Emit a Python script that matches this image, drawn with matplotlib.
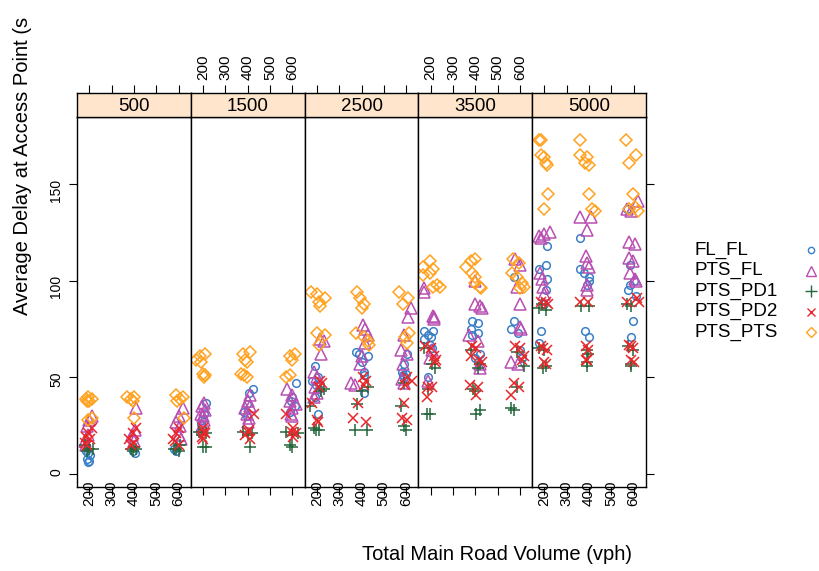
import matplotlib
matplotlib.use("Agg")
import matplotlib.pyplot as plt

plt.rcParams["font.family"] = ["Liberation Sans", "DejaVu Sans"]

# main road volume panels, access volume ticks
panels = [500, 1500, 2500, 3500, 5000]
access_ticks = [200, 300, 400, 500, 600]
series_names = ["FL_FL", "PTS_FL", "PTS_PD1", "PTS_PD2", "PTS_PTS"]

# (main road volume, access volume (jittered), delay)
fl_fl = [
    (500, 185, 12), (500, 195, 11), (500, 205, 10), (500, 190, 8), (500, 200, 7), (500, 195, 6),
    (500, 395, 12), (500, 405, 11), (500, 580, 13), (500, 590, 12),
    (1500, 215, 37), (1500, 205, 31), (1500, 195, 28), (1500, 190, 26), (1500, 185, 22),
    (1500, 425, 44), (1500, 405, 42), (1500, 395, 36), (1500, 385, 32), (1500, 395, 30),
    (1500, 615, 47), (1500, 600, 40), (1500, 595, 38), (1500, 610, 35), (1500, 590, 32),
    (2500, 190, 56), (2500, 205, 50), (2500, 180, 48), (2500, 195, 46), (2500, 210, 44), (2500, 190, 40), (2500, 205, 31),
    (2500, 375, 63), (2500, 390, 62), (2500, 430, 61), (2500, 400, 58), (2500, 410, 53), (2500, 410, 51), (2500, 410, 42),
    (2500, 605, 62), (2500, 590, 57), (2500, 580, 53), (2500, 600, 52), (2500, 585, 51), (2500, 590, 50),
    (3500, 170, 74), (3500, 210, 74), (3500, 190, 72), (3500, 200, 71), (3500, 170, 70), (3500, 195, 67), (3500, 205, 65), (3500, 190, 50),
    (3500, 385, 79), (3500, 410, 78), (3500, 380, 75), (3500, 410, 73), (3500, 385, 72), (3500, 420, 62), (3500, 400, 60), (3500, 410, 58),
    (3500, 575, 102), (3500, 575, 79), (3500, 560, 75), (3500, 590, 73), (3500, 600, 64), (3500, 610, 60),
    (5000, 210, 118), (5000, 205, 108), (5000, 175, 106), (5000, 210, 101), (5000, 205, 95), (5000, 200, 88), (5000, 185, 74), (5000, 175, 68),
    (5000, 360, 122), (5000, 360, 106), (5000, 375, 104), (5000, 400, 102), (5000, 400, 100), (5000, 390, 98), (5000, 380, 74), (5000, 400, 71),
    (5000, 570, 137), (5000, 585, 108), (5000, 600, 100), (5000, 585, 98), (5000, 575, 95), (5000, 610, 92), (5000, 595, 79), (5000, 590, 71),
]

pts_fl = [
    (500, 210, 30), (500, 200, 28), (500, 190, 25), (500, 195, 20), (500, 180, 17), (500, 185, 15),
    (500, 410, 34), (500, 405, 23), (500, 390, 20), (500, 400, 17),
    (500, 620, 34), (500, 600, 30), (500, 590, 27), (500, 605, 25), (500, 600, 20), (500, 610, 18),
    (1500, 205, 37), (1500, 195, 35), (1500, 210, 33), (1500, 190, 31), (1500, 200, 30), (1500, 205, 28), (1500, 195, 25),
    (1500, 410, 41), (1500, 400, 38), (1500, 410, 35), (1500, 390, 34), (1500, 395, 31), (1500, 405, 29), (1500, 400, 27),
    (1500, 575, 44), (1500, 600, 41), (1500, 590, 38), (1500, 615, 36), (1500, 600, 34), (1500, 595, 31), (1500, 600, 30),
    (2500, 215, 70), (2500, 230, 69), (2500, 220, 62), (2500, 185, 53), (2500, 200, 50), (2500, 190, 45), (2500, 200, 42), (2500, 185, 40),
    (2500, 405, 77), (2500, 415, 75), (2500, 430, 72), (2500, 415, 68), (2500, 400, 61), (2500, 395, 57), (2500, 355, 47), (2500, 370, 46),
    (2500, 620, 86), (2500, 610, 81), (2500, 590, 72), (2500, 575, 64), (2500, 605, 62), (2500, 585, 57), (2500, 580, 49), (2500, 590, 47),
    (3500, 170, 96), (3500, 170, 94), (3500, 210, 82), (3500, 215, 81), (3500, 215, 80), (3500, 205, 64), (3500, 195, 60), (3500, 190, 48),
    (3500, 400, 100), (3500, 400, 88), (3500, 420, 87), (3500, 430, 86), (3500, 370, 72), (3500, 410, 69), (3500, 420, 57), (3500, 420, 55),
    (3500, 580, 111), (3500, 600, 108), (3500, 585, 97), (3500, 600, 88), (3500, 600, 76), (3500, 605, 75), (3500, 560, 58), (3500, 590, 57),
    (5000, 175, 123), (5000, 200, 124), (5000, 225, 125), (5000, 185, 122), (5000, 180, 104), (5000, 190, 101), (5000, 195, 97), (5000, 200, 93),
    (5000, 360, 133), (5000, 410, 133), (5000, 390, 126), (5000, 385, 113), (5000, 390, 109), (5000, 400, 107), (5000, 390, 98), (5000, 390, 95),
    (5000, 620, 141), (5000, 570, 137), (5000, 590, 136), (5000, 580, 120), (5000, 605, 119), (5000, 580, 112), (5000, 595, 110),
    (5000, 585, 104), (5000, 605, 101), (5000, 610, 100),
]

pts_pd1 = [
    (500, 180, 15), (500, 200, 13), (500, 215, 13), (500, 190, 12),
    (500, 400, 14), (500, 385, 13), (500, 410, 13), (500, 395, 12),
    (500, 605, 15), (500, 590, 13), (500, 580, 13), (500, 600, 12),
    (1500, 180, 22), (1500, 215, 21), (1500, 195, 20), (1500, 200, 14), (1500, 215, 14),
    (1500, 380, 22), (1500, 420, 21), (1500, 400, 20), (1500, 410, 14),
    (1500, 570, 22), (1500, 625, 21), (1500, 600, 20), (1500, 590, 15), (1500, 600, 14),
    (2500, 230, 44), (2500, 220, 43), (2500, 170, 35), (2500, 185, 24), (2500, 210, 23), (2500, 195, 23),
    (2500, 430, 45), (2500, 400, 43), (2500, 380, 36), (2500, 370, 23), (2500, 425, 23),
    (2500, 590, 47), (2500, 575, 35), (2500, 590, 25), (2500, 600, 23),
    (3500, 170, 65), (3500, 205, 57), (3500, 220, 55), (3500, 190, 44), (3500, 185, 31), (3500, 195, 31),
    (3500, 380, 64), (3500, 420, 57), (3500, 410, 55), (3500, 390, 44), (3500, 400, 43), (3500, 420, 33), (3500, 405, 31),
    (3500, 585, 63), (3500, 620, 56), (3500, 585, 45), (3500, 560, 34), (3500, 575, 33),
    (5000, 175, 86), (5000, 205, 85), (5000, 190, 88), (5000, 175, 65), (5000, 200, 64), (5000, 205, 56), (5000, 195, 55),
    (5000, 365, 87), (5000, 400, 87), (5000, 390, 64), (5000, 395, 62), (5000, 390, 58), (5000, 390, 56),
    (5000, 570, 88), (5000, 590, 87), (5000, 575, 66), (5000, 595, 64), (5000, 590, 57), (5000, 590, 56),
]

pts_pd2 = [
    (500, 210, 24), (500, 195, 21), (500, 185, 19), (500, 205, 18), (500, 180, 16), (500, 190, 15),
    (500, 410, 24), (500, 395, 21), (500, 380, 18), (500, 400, 16), (500, 385, 15),
    (500, 600, 24), (500, 590, 21), (500, 575, 18), (500, 585, 17), (500, 600, 15),
    (1500, 200, 24), (1500, 205, 22), (1500, 210, 21), (1500, 195, 19), (1500, 200, 18),
    (1500, 430, 31), (1500, 405, 23), (1500, 400, 22), (1500, 390, 20), (1500, 410, 18),
    (1500, 570, 31), (1500, 605, 24), (1500, 600, 22), (1500, 615, 21), (1500, 605, 19),
    (2500, 215, 48), (2500, 225, 47), (2500, 210, 45), (2500, 180, 37), (2500, 200, 28), (2500, 205, 27),
    (2500, 405, 50), (2500, 420, 48), (2500, 410, 46), (2500, 385, 37), (2500, 360, 29), (2500, 420, 27),
    (2500, 605, 50), (2500, 625, 48), (2500, 595, 46), (2500, 590, 37), (2500, 580, 29), (2500, 605, 28),
    (3500, 175, 66), (3500, 200, 65), (3500, 215, 61), (3500, 225, 59), (3500, 220, 58), (3500, 190, 45), (3500, 205, 45), (3500, 185, 40),
    (3500, 385, 66), (3500, 405, 65), (3500, 380, 61), (3500, 415, 59), (3500, 430, 58), (3500, 375, 46), (3500, 410, 45), (3500, 405, 41),
    (3500, 580, 66), (3500, 600, 65), (3500, 620, 61), (3500, 610, 59), (3500, 575, 47), (3500, 595, 45), (3500, 560, 41),
    (5000, 185, 89), (5000, 205, 89), (5000, 215, 88), (5000, 185, 66), (5000, 195, 65), (5000, 210, 64), (5000, 200, 58), (5000, 205, 57),
    (5000, 360, 89), (5000, 395, 89), (5000, 385, 66), (5000, 395, 64), (5000, 385, 59), (5000, 390, 59),
    (5000, 570, 89), (5000, 615, 91), (5000, 625, 89), (5000, 580, 67), (5000, 590, 66), (5000, 595, 65), (5000, 590, 59), (5000, 600, 58),
]

pts_pts = [
    (500, 195, 40), (500, 210, 39), (500, 185, 39), (500, 200, 38), (500, 190, 38), (500, 210, 29), (500, 195, 28),
    (500, 370, 40), (500, 400, 40), (500, 385, 39), (500, 395, 38), (500, 400, 29),
    (500, 590, 41), (500, 620, 40), (500, 605, 39), (500, 595, 38), (500, 625, 29),
    (1500, 185, 61), (1500, 210, 62), (1500, 170, 59), (1500, 190, 58), (1500, 200, 52), (1500, 210, 51), (1500, 205, 50),
    (1500, 380, 62), (1500, 410, 63), (1500, 390, 59), (1500, 395, 58), (1500, 370, 52), (1500, 385, 51), (1500, 395, 50),
    (1500, 610, 62), (1500, 590, 61), (1500, 600, 59), (1500, 590, 51), (1500, 570, 50),
    (2500, 175, 94), (2500, 200, 93), (2500, 235, 91), (2500, 210, 89), (2500, 215, 87), (2500, 200, 73), (2500, 235, 72), (2500, 210, 67),
    (2500, 380, 94), (2500, 395, 91), (2500, 410, 88), (2500, 400, 86), (2500, 375, 73), (2500, 410, 71), (2500, 430, 69), (2500, 435, 67),
    (2500, 570, 94), (2500, 610, 91), (2500, 585, 88), (2500, 615, 73), (2500, 595, 71), (2500, 605, 68),
    (3500, 195, 110), (3500, 165, 107), (3500, 210, 106), (3500, 165, 103), (3500, 195, 104), (3500, 210, 97), (3500, 230, 98), (3500, 240, 97),
    (3500, 380, 110), (3500, 400, 111), (3500, 360, 107), (3500, 385, 104), (3500, 400, 102), (3500, 400, 99), (3500, 420, 97), (3500, 425, 96),
    (3500, 570, 111), (3500, 595, 109), (3500, 565, 104), (3500, 585, 102), (3500, 610, 99), (3500, 620, 97), (3500, 600, 96),
    (5000, 175, 173), (5000, 185, 173), (5000, 185, 165), (5000, 200, 164), (5000, 205, 161), (5000, 210, 160), (5000, 215, 145), (5000, 200, 137),
    (5000, 360, 173), (5000, 360, 165), (5000, 390, 164), (5000, 380, 161), (5000, 400, 160), (5000, 400, 145), (5000, 415, 137), (5000, 425, 136),
    (5000, 565, 173), (5000, 610, 165), (5000, 580, 161), (5000, 595, 145), (5000, 605, 138), (5000, 620, 136), (5000, 580, 137),
]

series_data = [fl_fl, pts_fl, pts_pd1, pts_pd2, pts_pts]
styles = [
    dict(marker="o", color="#3A80C6", ms=5.5, key_ms=4.5),
    dict(marker="^", color="#B94FB3", ms=8.0, key_ms=7.0),
    dict(marker="+", color="#23663A", ms=9.0, key_ms=8.0),
    dict(marker="x", color="#E8262A", ms=7.0, key_ms=6.0),
    dict(marker="D", color="#FFA21F", ms=6.5, key_ms=5.5),
]

W, H = 820, 571
fig = plt.figure(figsize=(W / 100, H / 100), dpi=100)


def fx(px):
    return px / W


def fy(py):
    return 1 - py / H


left0, right0 = 77, 646
top_px, bot_px, strip_px = 117, 487, 24
pw = (right0 - left0) / len(panels)
xlim = (145, 655)
ylim = (-6.7, 184.7)

for k, vol in enumerate(panels):
    l = left0 + k * pw
    ax = fig.add_axes([fx(l), fy(bot_px), pw / W, (bot_px - top_px) / H])
    sax = fig.add_axes([fx(l), fy(top_px), pw / W, strip_px / H])

    for data, st in zip(series_data, styles):
        xs = [x for p, x, y in data if p == vol]
        ys = [y for p, x, y in data if p == vol]
        ax.plot(xs, ys, ls="none", marker=st["marker"], ms=st["ms"],
                mfc="none", mec=st["color"], mew=1.1)

    ax.set_xlim(*xlim)
    ax.set_ylim(*ylim)
    ax.set_xticks(access_ticks)
    ax.set_yticks([0, 50, 100, 150])
    ax.tick_params(axis="x", direction="out", length=6, width=0.8,
                   bottom=True, top=False, labelbottom=(k % 2 == 0),
                   labelsize=11, labelrotation=90, pad=-11)
    ax.tick_params(axis="y", direction="out", length=6, width=0.8,
                   left=(k == 0), right=(k == len(panels) - 1),
                   labelleft=(k == 0), labelright=False,
                   labelsize=10, labelrotation=90, pad=4)
    for sp in ax.spines.values():
        sp.set_linewidth(1.0)

    sax.set_facecolor("#FFE5CC")
    sax.set_xlim(*xlim)
    sax.set_ylim(0, 1)
    sax.set_yticks([])
    sax.set_xticks(access_ticks)
    sax.tick_params(axis="x", direction="out", length=6, width=0.8,
                    bottom=False, top=True, labelbottom=False,
                    labeltop=(k % 2 == 1), labelsize=11, labelrotation=90, pad=3)
    for sp in sax.spines.values():
        sp.set_linewidth(1.0)
    sax.text(0.5, 0.45, str(vol), transform=sax.transAxes,
             ha="center", va="center", fontsize=13.5)

fig.text(fx(23), fy(315), "Average Delay at Access Point (s", rotation=90,
         rotation_mode="anchor", ha="left", va="center", fontsize=14.5)
fig.text(fx(497), fy(555), "Total Main Road Volume (vph)",
         ha="center", va="center", fontsize=14.5)

# key on the right
lax = fig.add_axes([0, 0, 1, 1])
lax.axis("off")
lax.set_xlim(0, W)
lax.set_ylim(H, 0)
row_y = [250, 270.5, 291, 311.5, 332]
for name, st, ry in zip(series_names, styles, row_y):
    lax.text(695, ry, name, ha="left", va="center", fontsize=13.5)
    lax.plot([811], [ry], ls="none", marker=st["marker"], ms=st["key_ms"],
             mfc="none", mec=st["color"], mew=1.0)

fig.savefig("out.png", dpi=100)
